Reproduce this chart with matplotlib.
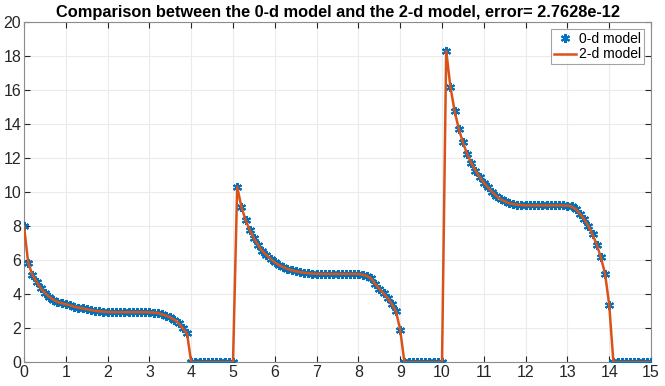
import numpy as np
import matplotlib
matplotlib.use("Agg")
import matplotlib.pyplot as plt

plt.rcParams['font.family'] = ['Liberation Sans', 'DejaVu Sans']

# x positions: 0.0 .. 15.0 step 0.1 (151 samples)
x_start, x_stop, x_count = 0.0, 15.0, 151

seg1 = [8.00, 5.86, 5.14, 4.74, 4.36, 4.08, 3.86, 3.68, 3.55, 3.48,
        3.42, 3.35, 3.28, 3.22, 3.17, 3.12, 3.07, 3.03, 3.00, 2.98,
        2.96, 2.95, 2.95, 2.95, 2.95, 2.95, 2.95, 2.95, 2.95, 2.95,
        2.94, 2.93, 2.90, 2.82, 2.74, 2.64, 2.50, 2.30, 2.00, 1.70]
zeros1 = [0.0] * 11
seg2 = [10.33, 9.15, 8.37, 7.78, 7.29, 6.90, 6.55, 6.31, 6.08, 5.88,
        5.72, 5.60, 5.50, 5.42, 5.36, 5.31, 5.27, 5.24, 5.22, 5.21,
        5.20, 5.20, 5.20, 5.20, 5.20, 5.20, 5.20, 5.20, 5.20, 5.19,
        5.16, 5.08, 4.94, 4.62, 4.31, 4.06, 3.77, 3.42, 2.99, 1.90]
zeros2 = [0.0] * 10
seg3 = [18.33, 16.21, 14.80, 13.74, 12.94, 12.25, 11.74, 11.27, 10.92, 10.56,
        10.29, 10.02, 9.78, 9.59, 9.47, 9.37, 9.31, 9.27, 9.25, 9.23,
        9.23, 9.23, 9.23, 9.23, 9.23, 9.23, 9.23, 9.23, 9.23, 9.22,
        9.17, 9.00, 8.74, 8.42, 8.03, 7.52, 6.93, 6.18, 5.21, 3.37]
zeros3 = [0.0] * 10

values = seg1 + zeros1 + seg2 + zeros2 + seg3 + zeros3
x = np.linspace(x_start, x_stop, x_count)

title = "Comparison between the 0-d model and the 2-d model, error= 2.7628e-12"
xticks = list(range(0, 16))
yticks = list(range(0, 21, 2))

fig = plt.figure(figsize=(6.65, 3.86), dpi=100)
ax = fig.add_axes([0.0361, 0.0614, 0.9429, 0.8806])

ax.plot(x, values, linestyle='none', marker=(6, 2, 0), markersize=6.5,
        markeredgewidth=1.5, color='#0072BD', label='0-d model', zorder=3)
ax.plot(x, values, '-', color='#D95319', linewidth=1.8,
        label='2-d model', zorder=4)

ax.set_xlim(0, 15)
ax.set_ylim(0, 20)
ax.set_xticks(xticks)
ax.set_yticks(yticks)
ax.grid(True, color='#ebebeb', linewidth=0.8)
ax.set_axisbelow(True)
ax.tick_params(direction='in', top=True, right=True, length=4,
               labelsize=11.5, colors='#262626', pad=2)
for s in ax.spines.values():
    s.set_color('#8c8c8c')
    s.set_linewidth(0.8)
ax.set_title(title, fontsize=11.8, fontweight='bold', pad=4)

leg = ax.legend(loc='upper right', fontsize=10, frameon=True, fancybox=False,
                borderaxespad=0.5, handlelength=1.6, borderpad=0.2,
                labelspacing=0.1, handletextpad=0.2)
leg.get_frame().set_edgecolor('#8c8c8c')
leg.get_frame().set_linewidth(0.8)

fig.savefig('out.png', dpi=100)
